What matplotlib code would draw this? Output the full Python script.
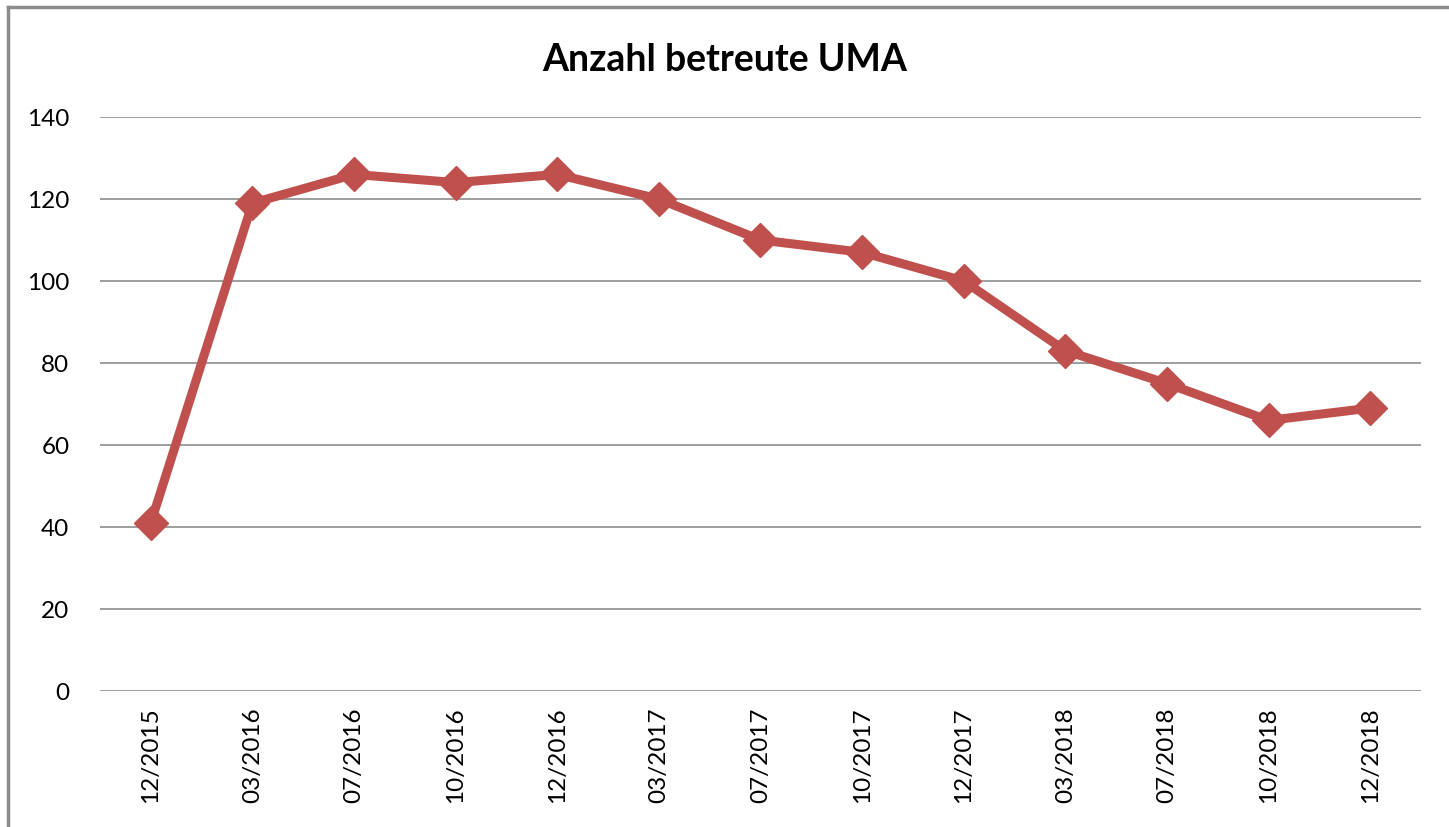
import matplotlib
matplotlib.use('Agg')

import numpy as np
import matplotlib.pyplot as plt

# data
dates = ['12/2015', '03/2016', '07/2016', '10/2016', '12/2016', '03/2017', '07/2017',
         '10/2017', '12/2017', '03/2018', '07/2018', '10/2018', '12/2018']
counts = [41, 119, 126, 124, 126, 120, 110, 107, 100, 83, 75, 66, 69]
yticks = [0, 20, 40, 60, 80, 100, 120, 140]

plt.rcParams['font.family'] = ['Lato', 'DejaVu Sans']

fig = plt.figure(figsize=(14.49, 8.27), dpi=100)
ax = fig.add_axes([100 / 1449, 136 / 827, 1321 / 1449, 574 / 827])

x = np.arange(len(dates))
ax.plot(x, counts, color='#C0504D', linewidth=6.5, marker='D', markersize=17,
        markeredgecolor='#C0504D', solid_joinstyle='round', zorder=3)

ax.set_xlim(-0.5, len(dates) - 0.5)
ax.set_ylim(0, 140)
ax.set_yticks(yticks)
ax.set_xticks(x)
ax.set_xticklabels(dates, rotation=90, fontsize=17.5)
ax.tick_params(axis='y', labelsize=17.5, length=0, pad=22)
ax.tick_params(axis='x', length=0, pad=12)
ax.grid(axis='y', color='#8C8C8C', linewidth=1.2)
ax.set_axisbelow(True)
for s in ax.spines.values():
    s.set_visible(False)

fig.text(0.5, 1 - 60 / 827, 'Anzahl betreute UMA', ha='center', va='center',
         fontsize=27, fontweight='bold')

# outer frame like the spreadsheet chart border
fig.add_artist(plt.Line2D([8 / 1449, 8 / 1449], [0, 1 - 7 / 827], color='#8C8C8C', linewidth=2.5))
fig.add_artist(plt.Line2D([8 / 1449, 1], [1 - 7 / 827, 1 - 7 / 827], color='#8C8C8C', linewidth=2.5))

fig.savefig('out.png', dpi=100)
